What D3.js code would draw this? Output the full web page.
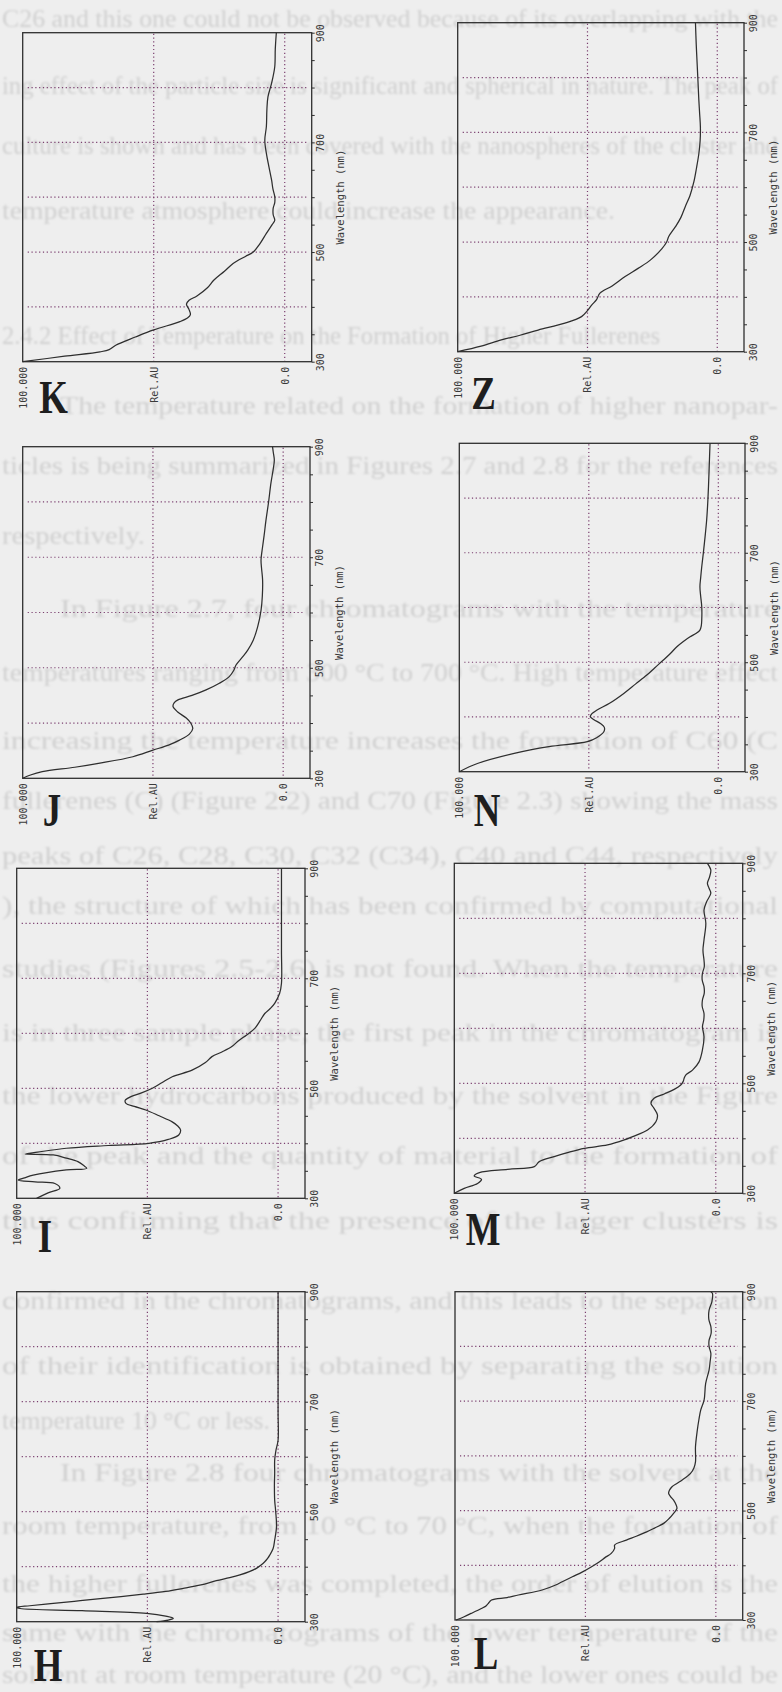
<!DOCTYPE html>
<html><head><meta charset="utf-8">
<script src="https://cdn.jsdelivr.net/npm/d3@7/dist/d3.min.js"></script>
<style>
html,body{margin:0;padding:0;background:#eeeeee;}
svg{display:block;}
</style></head><body>
<svg id="chart" width="782" height="1692"></svg>
<script>
// ---------- axis data ----------
const wavelengthDomain = [300, 900];
const relDomain = [100, -10.3];
const wavelengthTicks = [300, 350, 400, 450, 500, 550, 600, 650, 700, 750, 800, 850, 900];
const wavelengthLabels = [300, 500, 700, 900];
const wavelengthGrid = [400, 500, 600, 700, 800];
const relTicks = [100, 50, 0];
const relLabels = ["100.000", "Rel.AU", "0.0"];
const relGrid = [50, 0];
const axisTitle = "Wavelength (nm)";

// ---------- spectra: [wavelength nm, relative absorbance] ----------
const specK = [[300,100],[310,84],[318,70.5],[322,67],[330,64.5],[345,57],[358,50],[373,40],[380,37],[386,36],[395,36.5],[405,37.5],[412,36.5],[420,33.5],[435,29.5],[449,27],[465,23],[479,19.7],[492,15],[500,12],[515,9.5],[534,7],[550,4.8],[558,3.8],[568,4.4],[580,4.4],[590,3.8],[601,3.8],[615,4.5],[631,5],[655,6],[680,7],[704,7.6],[729,7],[760,6.8],[783,6.4],[808,5],[838,3.8],[870,3.6],[900,3.2]];
const specZ = [[300,100],[310,91],[321.6,83.2],[330,76],[339.5,69],[352,58.7],[364,52.3],[375,50],[385,48.4],[395,46.5],[406.7,45.2],[420,40.5],[437,35.5],[452,30.5],[467,25.8],[488,21.3],[500,19.5],[510,18.7],[528,16.1],[545,14],[565,12.3],[585,10.5],[610,9],[635,8],[661,7.1],[685,6.6],[710,6.5],[735,6.8],[759,7.1],[790,7.4],[820,7.7],[860,8.1],[900,8.4]];
const specJ = [[300,100],[306,97],[312,92.5],[320,80],[327,70.9],[339,57.7],[351,50],[360,44],[369,39.8],[380,36],[390,34.7],[400,35.5],[409,37.2],[420,40.5],[430,42.3],[437,41.8],[442,40.4],[450,35],[460,29.6],[472,24.5],[484,20.7],[495,19],[505,18.1],[520,15.5],[532,13.6],[550,11.5],[574,9.8],[604,8.5],[630,8],[659,7.9],[680,8.3],[695,8.5],[719,7.9],[740,7.3],[767,6.6],[800,5.6],[834,4.7],[860,3.8],[876,3.4],[890,3.8],[900,4.1]];
const specN = [[300,100],[315,93],[333.5,78.8],[345.7,65.4],[354.8,50.6],[362,47],[373,44.2],[381,44],[388,45.5],[395,48],[400.5,49.4],[406,48.8],[412.7,46.8],[425,42],[443,36.5],[460,32],[476.6,27.6],[490,24.5],[504,21.2],[516,18.5],[528.4,16],[538,13.5],[546.6,10.9],[553,8.5],[558.8,7.1],[566,6.6],[577,6.4],[601.5,6.4],[620,6.8],[638,7.1],[655,6.8],[674.5,6.4],[699,5.8],[730,5.1],[759.8,4.5],[790,4.1],[820.7,3.8],[860,3.5],[900,3.2]];
const specI = [[300,92.4],[310,88],[318,83.5],[327,85.4],[330,93],[333,99.4],[337,97],[342,93.7],[351.5,81],[354.5,73.2],[360,74.5],[366.7,76.6],[373,81],[378.8,86],[380.6,96.8],[384,92],[391,81],[396,65],[400,49.4],[407,42],[415,38],[424,37.3],[432,38.5],[439,40.5],[450,45.5],[460.6,50.6],[467,55],[472.7,58.2],[478,58.5],[484.8,56.3],[492,52],[500,48.1],[510,44.5],[521,40.5],[533,32.9],[546.7,27.8],[557.6,25.3],[566,21.5],[575.8,17.7],[587,15],[597,12],[609,8.9],[622,7],[636,5.1],[645,3],[654.5,1.3],[672.7,-0.6],[691,-1.3],[750,-1.3],[820,-1.3],[900,-1.3]];
const specM = [[300,100],[309,96.2],[318,91.1],[325.5,89.6],[331.5,92.4],[337.6,90.4],[343.6,79.6],[348.5,69.4],[357.6,67.5],[366.7,61.8],[374,56.7],[381.8,50.3],[387.9,41.4],[397,35],[403,31.8],[415,26.1],[430,22.9],[442.4,22.3],[454.5,23.6],[463.6,24.8],[472.7,23.6],[480.6,19.7],[489,15.9],[497,13.4],[503,12.5],[509,12.1],[515,11.5],[524,8.9],[539,6.4],[560.6,5.1],[584.8,4.5],[603,5.1],[615,4.6],[627,4.5],[640,5.2],[651.5,5.1],[664,4.4],[675.8,4.5],[688,5.2],[700,5.1],[712,4.4],[724,4.5],[742,4.9],[760.6,4.5],[791,3.8],[815,4.5],[830,3.5],[845.5,1.9],[855,2.6],[863.6,3.2],[875,2.4],[888,1.9],[900,3.2]];
const specH = [[300,46.5],[303,42],[306,40.1],[310,43],[315,50.3],[320,75],[324,98.7],[326,100],[329,95],[333,87],[337,78],[342,68],[350,51.6],[355,43],[360.6,36.3],[367,29.5],[374.5,23.6],[380,18.5],[385,14.6],[391,11],[397,8.3],[403,6.5],[409,5.1],[415,4],[421,3.2],[433,1.9],[448.5,1.3],[472.7,0.6],[500,0.9],[521,1.3],[550,1.4],[570,1.3],[594,1.3],[612,0.8],[630,0],[680,0],[760,0],[840,0],[900,0]];
const specL = [[300,99.6],[306,96.5],[312,93.8],[321,89.9],[326,88],[330,87.3],[336.5,86],[341,80],[345.7,75.7],[354.8,66.6],[364,61.4],[370,58.9],[379,55],[388,51.1],[397,47.8],[406.6,44.6],[414,42.5],[421.8,40.1],[431,38.8],[437,38.8],[446,34.3],[453,30.5],[461,26.5],[468,23.5],[476.6,20],[485,18],[494.9,16.2],[504,14.9],[511,15.3],[519,16.2],[525,17.3],[531.4,18.1],[537,17.8],[543.6,16.8],[550,14.8],[555.8,12.9],[568,9.7],[578,8.4],[589,7.8],[616.7,7.8],[647,7.1],[666,6.5],[683.7,5.8],[702,4.5],[732.4,3.9],[756.8,2.6],[772,2.2],[787,1.9],[800,2.6],[811,2.6],[824,1.8],[836,1.9],[850,2.7],[866,2.6],[882,1.5],[897,1.3],[900,1.9]];

// ---------- page (bleed-through text of the scanned sheet) ----------
const bgText = [
 "C26 and this one could not be observed because of its overlapping with the",
 "ing effect of the particle size is significant and spherical in nature. The peak of",
 "culture is shown and has been covered with the nanospheres of the cluster and",
 "temperature atmosphere could increase the appearance.",
 "2.4.2 Effect of Temperature on the Formation of Higher Fullerenes",
 "The temperature related on the formation of higher nanopar-",
 "ticles is being summarized in Figures 2.7 and 2.8 for the references",
 "respectively.",
 "In Figure 2.7, four chromatograms with the temperature",
 "temperatures ranging from 300 °C to 700 °C. High temperature effect",
 "increasing the temperature increases the formation of C60 (C",
 "fullerenes (C) (Figure 2.2) and C70 (Figure 2.3) showing the mass",
 "peaks of C26, C28, C30, C32 (C34), C40 and C44, respectively",
 "), the structure of which has been confirmed by computational",
 "studies (Figures 2.5-2.6) is not found. When the temperature",
 "is in three sample phase, the first peak in the chromatogram is",
 "the lower hydrocarbons produced by the solvent in the Figure",
 "of the peak and the quantity of material to the formation of",
 "thus confirming that the presence of the larger clusters is",
 "confirmed in the chromatograms, and this leads to the separation",
 "of their identification is obtained by separating the solution",
 "temperature 10 °C or less.",
 "In Figure 2.8 four chromatograms with the solvent at the",
 "room temperature, from 10 °C to 70 °C, when the formation of",
 "the higher fullerenes was completed, the order of elution is the",
 "same with the chromatograms of the lower temperature of the",
 "solvent at room temperature (20 °C), and the lower ones could be"
];
const bgY  = [18,85,145,210,335,405,465,535,608,672,740,800,855,905,968,1032,1095,1155,1220,1300,1365,1420,1472,1525,1583,1632,1674];
const bgX0 = [2,2,2,2,2,60,2,2,60,2,2,2,2,2,2,2,2,2,2,2,2,2,60,2,2,2,2];
const bgX1 = [778,778,778,615,660,778,778,145,778,778,778,778,778,778,778,778,778,778,778,778,778,270,778,778,778,778,778];

// ---------- layout ----------
const panels = [
 {name:"K", data:specK, box:[22.7,32.7,311.7,361.7],  letter:[53.5,397]},
 {name:"Z", data:specZ, box:[457.7,22.7,744,351.7],   letter:[483.5,393]},
 {name:"J", data:specJ, box:[22.7,446.7,310,778.3],   letter:[52,810]},
 {name:"N", data:specN, box:[459.3,443.3,745,771.7],  letter:[487,810]},
 {name:"I", data:specI, box:[16.7,868.3,305,1198.3],  letter:[45,1236]},
 {name:"M", data:specM, box:[454.3,863.3,742.7,1193.3],letter:[483,1229]},
 {name:"H", data:specH, box:[16.7,1291.7,305,1621.7], letter:[48,1665]},
 {name:"L", data:specL, box:[455,1291.7,742.7,1620],  letter:[486,1653]}
];

const svg = d3.select("#chart");
svg.append("rect").attr("width",782).attr("height",1692).attr("fill","#eeeeee");

const defs = svg.append("defs");
defs.append("filter").attr("id","soft").append("feGaussianBlur").attr("stdDeviation",1.0);

// bleed-through text layer
const bg = svg.append("g").attr("filter","url(#soft)")
  .attr("font-family","'Liberation Serif', 'Times New Roman', serif")
  .attr("font-size",25).attr("fill","#d0d0d0");
bgText.forEach((t,i)=>{
  bg.append("text").attr("x",bgX0[i]).attr("y",bgY[i]+9)
    .attr("textLength",bgX1[i]-bgX0[i]).attr("lengthAdjust","spacingAndGlyphs")
    .text(t);
});

const inkGrid = "#7b3f6f";
const ink = "#2e2e2e";

panels.forEach(p=>{
  const [x0,y0,x1,y1] = p.box;
  const w = x1-x0, h = y1-y0;
  const x = d3.scaleLinear().domain(relDomain).range([0,w]);
  const y = d3.scaleLinear().domain(wavelengthDomain).range([h,0]);
  const g = svg.append("g").attr("transform",`translate(${x0},${y0})`);

  // grid
  g.append("g").selectAll("line").data(relGrid).join("line")
    .attr("x1",d=>x(d)).attr("x2",d=>x(d)).attr("y1",1).attr("y2",h-1)
    .attr("stroke",inkGrid).attr("stroke-width",1.2).attr("stroke-dasharray","1.2 2.6");
  g.append("g").selectAll("line").data(wavelengthGrid).join("line")
    .attr("x1",5).attr("x2",w-5).attr("y1",d=>y(d)).attr("y2",d=>y(d))
    .attr("stroke",inkGrid).attr("stroke-width",1.2).attr("stroke-dasharray","1.2 2.6");

  // wavelength axis (right side)
  const ax = g.append("g").attr("transform",`translate(${w},0)`)
    .call(d3.axisRight(y).tickValues(wavelengthTicks).tickSize(3)
      .tickFormat(d=>wavelengthLabels.includes(d)?String(d):""));
  ax.select(".domain").remove();
  ax.selectAll("line").attr("stroke",ink);
  ax.selectAll("text").attr("x",null).attr("dy","0.35em")
    .attr("transform","translate(9,0) rotate(-90)").attr("text-anchor","middle")
    .attr("font-family","'DejaVu Sans Mono', monospace").attr("font-size",10).attr("fill","#3a3a3a");

  // relative axis (bottom)
  const bx = g.append("g").attr("transform",`translate(0,${h})`)
    .call(d3.axisBottom(x).tickValues(relTicks).tickSize(0).tickFormat((d,i)=>relLabels[i]));
  bx.select(".domain").remove();
  bx.selectAll("text").attr("y",null).attr("dy","0.35em")
    .attr("transform","translate(0,5) rotate(-90)").attr("text-anchor","end")
    .attr("font-family","'DejaVu Sans Mono', monospace").attr("font-size",10).attr("fill","#3a3a3a");

  // axis title
  g.append("text").attr("transform",`translate(${w+29},${y(600)}) rotate(-90)`)
    .attr("text-anchor","middle").attr("dy","0.35em")
    .attr("font-family","'DejaVu Sans Mono', monospace").attr("font-size",10.5)
    .attr("fill","#3a3a3a").text(axisTitle);

  // frame
  g.append("rect").attr("x",0).attr("y",0).attr("width",w).attr("height",h)
    .attr("fill","none").attr("stroke",ink).attr("stroke-width",1.3);

  // spectrum
  const line = d3.line().x(d=>x(d[1])).y(d=>y(d[0])).curve(d3.curveCatmullRom.alpha(0.5));
  g.append("path").datum(p.data).attr("d",line)
    .attr("fill","none").attr("stroke",ink).attr("stroke-width",1.25).attr("stroke-linejoin","round");

  // panel letter
  svg.append("text").attr("transform",`translate(${p.letter[0]},${p.letter[1]}) scale(0.8,1)`)
    .attr("text-anchor","middle").attr("dy","0.35em")
    .attr("font-family","'Liberation Serif', 'Times New Roman', serif").attr("font-weight","bold")
    .attr("font-size",46).attr("fill","#1e1e1e").text(p.name);
});
</script>
</body></html>
